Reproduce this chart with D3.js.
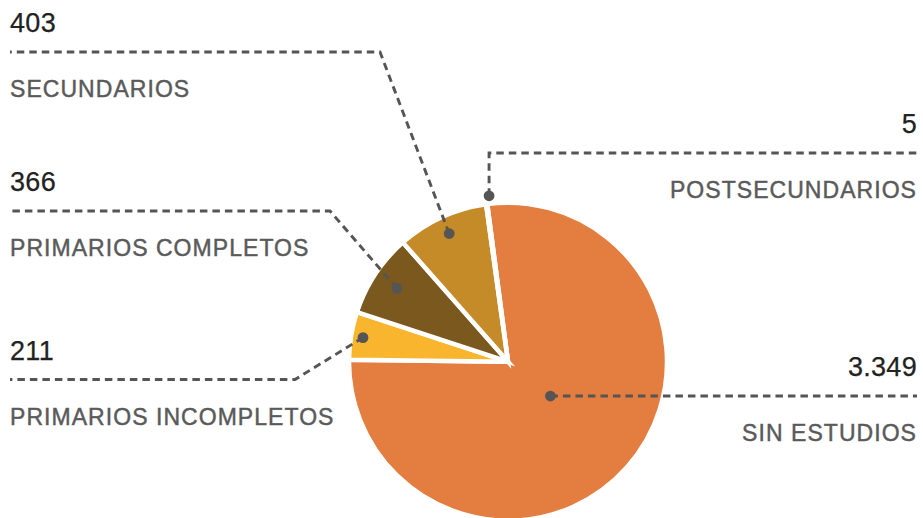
<!DOCTYPE html>
<html>
<head>
<meta charset="utf-8">
<script src="https://cdn.jsdelivr.net/npm/d3@7/dist/d3.min.js"></script>
<style>
  html, body { margin: 0; padding: 0; background: #ffffff; }
  svg { display: block; }
  .num { font-family: "Liberation Sans", Arial, Helvetica, sans-serif; font-size: 27px; fill: #222222; stroke: #222222; stroke-width: 0.25px; letter-spacing: 0.3px; }
  .cat { font-family: "Liberation Sans", Arial, Helvetica, sans-serif; font-size: 23px; fill: #5a5a5a; stroke: #5a5a5a; stroke-width: 0.45px; letter-spacing: 1.05px; }
</style>
</head>
<body>
<div id="chart"></div>
<script>
// Education level counts
const categories = ["SIN ESTUDIOS", "PRIMARIOS INCOMPLETOS", "PRIMARIOS COMPLETOS", "SECUNDARIOS", "POSTSECUNDARIOS"];
const values = [3349, 211, 366, 403, 5];
const colors = ["#e47d40", "#f9b52e", "#7b591e", "#c58b28", "#d99a3a"];

// Callout layout: which side the text sits on, the height of the dashed rule,
// the elbow x, and where on the slice the dot is anchored.
const side = ["right", "left", "left", "left", "right"];
const ruleY = [null, 379.5, 211, 52, 153];
const elbowX = [null, 295, 330, 380, null];
const anchorR = [54.6, 147, 133, 141, 167];
const anchorShiftDeg = [-2.6, 0, 0, 0, 1.2];

const W = 923, H = 518;
const cx = 508, cy = 361.7, R = 159;
const leftX = 10, rightX = 917;

const fmt = d3.formatLocale({ decimal: ",", thousands: ".", grouping: [3], currency: ["", "€"] }).format(",");

const svg = d3.select("#chart").append("svg")
  .attr("width", W).attr("height", H);

const pie = d3.pie()
  .sort(null)
  .value(d => d)
  .startAngle(-7.5 * Math.PI / 180)
  .endAngle(-7.5 * Math.PI / 180 + 2 * Math.PI);

const arcs = pie(values);
const arc = d3.arc().innerRadius(0).outerRadius(R);

const g = svg.append("g").attr("transform", `translate(${cx},${cy})`);
g.selectAll("path.slice")
  .data(arcs)
  .join("path")
  .attr("class", "slice")
  .attr("d", arc)
  .attr("fill", (d, i) => colors[i])
  .attr("stroke", "#ffffff")
  .attr("stroke-width", 4.5)
  .attr("stroke-linejoin", "miter");

// Callouts
const lineColor = "#555555";
const callouts = arcs.map((a, i) => {
  const ang = (a.startAngle + a.endAngle) / 2 + anchorShiftDeg[i] * Math.PI / 180;
  const dot = [cx + anchorR[i] * Math.sin(ang), cy - anchorR[i] * Math.cos(ang)];
  let y, pts;
  if (side[i] === "left") {
    y = ruleY[i];
    pts = [dot, [elbowX[i], y], [leftX, y]];
  } else if (ruleY[i] === null) {
    y = dot[1];
    pts = [dot, [rightX, y]];
  } else {
    y = ruleY[i];
    pts = [dot, [dot[0], y], [rightX, y]];
  }
  return { i, dot, y, pts };
});

const line = d3.line();
const cg = svg.append("g");
cg.selectAll("path.leader")
  .data(callouts)
  .join("path")
  .attr("class", "leader")
  .attr("d", d => line(d.pts))
  .attr("fill", "none")
  .attr("stroke", lineColor)
  .attr("stroke-width", 2.9)
  .attr("stroke-dasharray", "7.5,5");

cg.selectAll("circle.anchor")
  .data(callouts)
  .join("circle")
  .attr("class", "anchor")
  .attr("cx", d => d.dot[0])
  .attr("cy", d => d.dot[1])
  .attr("r", 5.4)
  .attr("fill", lineColor);

cg.selectAll("text.num")
  .data(callouts)
  .join("text")
  .attr("class", "num")
  .attr("x", d => side[d.i] === "left" ? leftX : rightX)
  .attr("y", d => d.y - 20)
  .attr("text-anchor", d => side[d.i] === "left" ? "start" : "end")
  .text(d => fmt(values[d.i]));

cg.selectAll("text.cat")
  .data(callouts)
  .join("text")
  .attr("class", "cat")
  .attr("x", d => side[d.i] === "left" ? leftX : rightX)
  .attr("y", d => d.y + 45)
  .attr("text-anchor", d => side[d.i] === "left" ? "start" : "end")
  .text(d => categories[d.i]);
</script>
</body>
</html>
